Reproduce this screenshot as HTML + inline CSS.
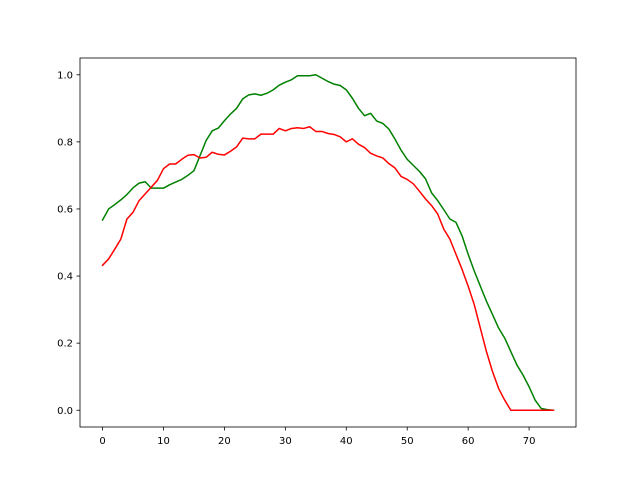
<!DOCTYPE html>
<html><head><meta charset="utf-8"><style>body{margin:0;background:#fff}svg{display:block}text{font-family:"DejaVu Sans","Liberation Sans",sans-serif;font-size:10px;fill:#000}</style></head>
<body>
<svg id="chart" width="640" height="480" viewBox="0 0 640 480">
<rect x="0" y="0" width="640" height="480" fill="#fff"/>
<g id="plot"></g>
<rect x="80" y="58" width="496" height="369" fill="none" stroke="#000" stroke-width="0.8"/>
</svg>
<script>
const xTicks = [0,10,20,30,40,50,60,70];
const yTicks = [0.0,0.2,0.4,0.6,0.8,1.0];
const greenSeries = [0.567,0.6,0.613,0.627,0.643,0.663,0.677,0.681,0.662,0.662,0.662,0.672,0.68,0.688,0.7,0.714,0.759,0.804,0.833,0.841,0.863,0.883,0.9,0.928,0.94,0.943,0.939,0.945,0.955,0.969,0.978,0.985,0.997,0.997,0.997,1.0,0.99,0.98,0.972,0.968,0.955,0.93,0.90,0.878,0.885,0.862,0.855,0.838,0.808,0.775,0.748,0.73,0.712,0.69,0.648,0.625,0.598,0.57,0.56,0.52,0.465,0.415,0.37,0.325,0.285,0.245,0.215,0.175,0.135,0.105,0.07,0.03,0.005,0.002,0];
const redSeries = [0.432,0.451,0.48,0.51,0.57,0.59,0.625,0.645,0.665,0.685,0.72,0.734,0.734,0.748,0.76,0.762,0.752,0.754,0.769,0.763,0.761,0.772,0.785,0.811,0.809,0.809,0.823,0.823,0.823,0.84,0.833,0.84,0.842,0.84,0.845,0.831,0.831,0.825,0.822,0.815,0.80,0.809,0.793,0.783,0.766,0.758,0.752,0.735,0.722,0.697,0.688,0.675,0.653,0.63,0.61,0.585,0.54,0.51,0.465,0.42,0.37,0.315,0.245,0.175,0.115,0.065,0.03,0,0,0,0,0,0,0,0];

const NS="http://www.w3.org/2000/svg";
const g=document.getElementById('plot');
const L=80,R=576,T=58,B=427;
const n=Math.max(greenSeries.length,redSeries.length)-1;
const xPad=n*0.05;
const xMin=-xPad,xMax=n+xPad;
const yMin=-0.05,yMax=1.05;
function sx(v){return L+(v-xMin)/(xMax-xMin)*(R-L);}
function sy(v){return B-(v-yMin)/(yMax-yMin)*(B-T);}
function mk(tag,attrs){const e=document.createElementNS(NS,tag);for(const k in attrs)e.setAttribute(k,attrs[k]);return e;}

xTicks.forEach(t=>{
  const x=sx(t);
  const ln=mk('line',{x1:x,x2:x,y1:B,y2:B+3.5,stroke:'#000','stroke-width':0.8});
  
  
  g.appendChild(ln);
  const tx=mk('text',{x:x,y:B+17,'text-anchor':'middle'});
  tx.textContent=String(t);
  
  
  g.appendChild(tx);
});
yTicks.forEach(t=>{
  const y=sy(t);
  const ln=mk('line',{x1:L-3.5,x2:L,y1:y,y2:y,stroke:'#000','stroke-width':0.8});
  
  
  g.appendChild(ln);
  const tx=mk('text',{x:L-7,y:y+3.6,'text-anchor':'end'});
  tx.textContent=t.toFixed(1);
  
  
  g.appendChild(tx);
});
function line(data,color,name){
  const pts=data.map((v,i)=>sx(i).toFixed(2)+','+sy(v).toFixed(2)).join(' ');
  const p=mk('polyline',{points:pts,fill:'none',stroke:color,'stroke-width':1.5,'stroke-linejoin':'round','stroke-linecap':'square'});
  
  
  g.appendChild(p);
}
line(greenSeries,'#008000','green-series-line');
line(redSeries,'#ff0000','red-series-line');
</script>
</body></html>
